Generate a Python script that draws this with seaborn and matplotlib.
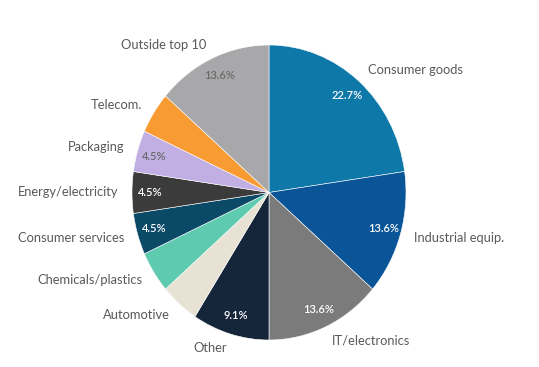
import matplotlib
matplotlib.use("Agg")
import matplotlib.pyplot as plt
import seaborn as sns

# Sector breakdown (counts; shares are count / total)
sectors = ["Consumer goods", "Industrial equip.", "IT/electronics", "Other",
           "Automotive", "Chemicals/plastics", "Consumer services",
           "Energy/electricity", "Packaging", "Telecom.", "Outside top 10"]
counts = [5, 3, 3, 2, 1, 1, 1, 1, 1, 1, 3]
show_pct = [True, True, True, True, False, False, True, True, True, False, True]
colors = ["#0e78a8", "#0a5597", "#7b7b7b", "#15253a", "#e7e2d4", "#5ecbb0",
          "#0b4a67", "#3b3b3b", "#c1afe4", "#f89b33", "#a8a8ab"]
pct_colors = ["white", "white", "white", "white", "#555555", "#555555",
              "white", "white", "#6a6a6a", "#555555", "#6a6a6a"]

sns.set_theme(style="white")
plt.rcParams["font.family"] = ["Lato", "DejaVu Sans"]
palette = sns.color_palette(colors)

fig = plt.figure(figsize=(5.39, 3.67), dpi=100)
fig.patch.set_facecolor("white")
# axes box spans the pie (slightly taller than wide)
ax = fig.add_axes([132 / 539, 1 - 340 / 367, 274 / 539, 295 / 367])

wedges, texts, autotexts = ax.pie(
    counts, labels=sectors, colors=palette, startangle=90, counterclock=False,
    labeldistance=1.1, pctdistance=0.87, autopct="%.1f%%",
    wedgeprops=dict(edgecolor="white", linewidth=0.4),
    textprops=dict(fontsize=9.3, color="#595959"),
)
for t, show, c in zip(autotexts, show_pct, pct_colors):
    t.set_visible(show)
    t.set_color(c)
    t.set_fontsize(8)
    t.set_fontweight("semibold")

ax.set_aspect("auto")
ax.set_xlim(-1, 1)
ax.set_ylim(-1, 1)
ax.axis("off")

fig.savefig("out.png", dpi=100, facecolor="white")
